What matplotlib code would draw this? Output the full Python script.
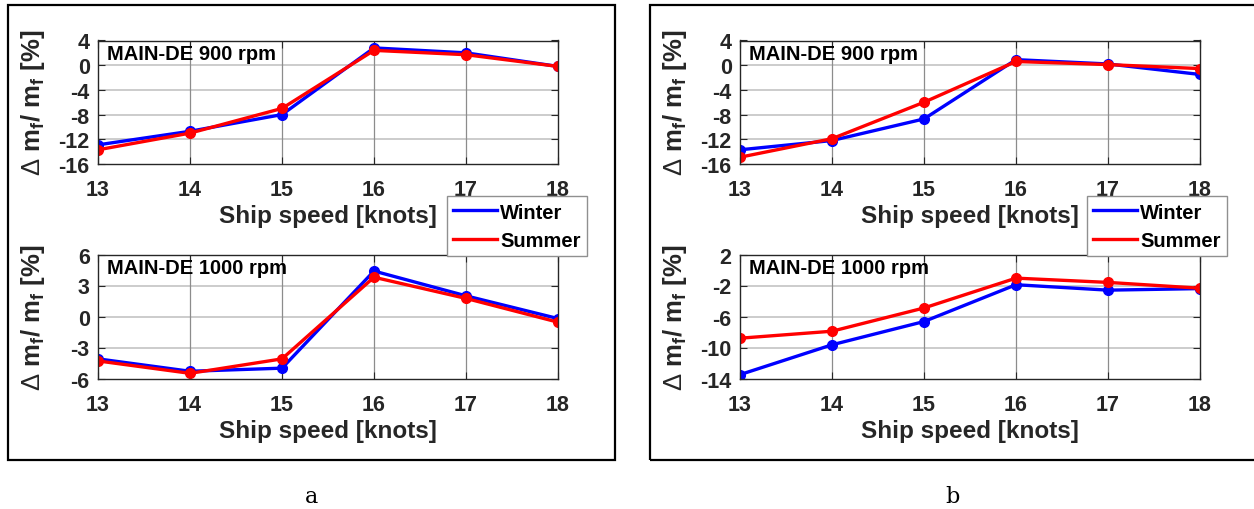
import matplotlib
matplotlib.use("Agg")
import matplotlib.pyplot as plt
from matplotlib.patches import Rectangle

plt.rcParams['font.family'] = ['Liberation Sans', 'DejaVu Sans']
plt.rcParams['mathtext.fontset'] = 'custom'
plt.rcParams['mathtext.rm'] = 'Liberation Sans'
plt.rcParams['mathtext.bf'] = 'Liberation Sans:bold'
plt.rcParams['axes.unicode_minus'] = False

speed = [13, 14, 15, 16, 17, 18]

# panel a
a900_winter = [-12.9, -10.7, -8.0, 2.8, 2.0, -0.2]
a900_summer = [-13.7, -11.0, -7.0, 2.4, 1.7, -0.2]
a1000_winter = [-4.1, -5.3, -5.0, 4.4, 2.0, -0.2]
a1000_summer = [-4.3, -5.5, -4.1, 3.8, 1.75, -0.55]

# panel b
b900_winter = [-13.7, -12.2, -8.7, 0.9, 0.2, -1.5]
b900_summer = [-14.9, -11.9, -6.0, 0.6, 0.1, -0.55]
b1000_winter = [-13.5, -9.65, -6.65, -1.9, -2.6, -2.4]
b1000_summer = [-8.8, -7.9, -4.9, -1.05, -1.6, -2.35]

yticks_900 = [-16, -12, -8, -4, 0, 4]
yticks_a1000 = [-6, -3, 0, 3, 6]
yticks_b1000 = [-14, -10, -6, -2, 2]

W, H = 1254, 510
fig = plt.figure(figsize=(W / 100, H / 100), dpi=100)


def px_axes(x0, y0, x1, y1):
    return fig.add_axes([x0 / W, 1 - y1 / H, (x1 - x0) / W, (y1 - y0) / H])


def px_box(x0, y0, x1, y1):
    fig.patches.append(Rectangle((x0 / W, 1 - y1 / H), (x1 - x0) / W, (y1 - y0) / H,
                                 transform=fig.transFigure, fill=False,
                                 edgecolor='black', lw=1.6))


dark = '#262626'


def draw(ax, winter, summer, yticks, title, x0, y0, y1):
    ax.set_xlim(13, 18)
    ax.set_ylim(yticks[0], yticks[-1])
    ax.set_xticks(speed)
    ax.set_yticks(yticks)
    for y in yticks[1:-1]:
        ax.axhline(y, color='#c8c8c8', lw=1.3, zorder=0)
    for x in speed[1:-1]:
        ax.axvline(x, color='#8c8c8c', lw=0.9, zorder=0)
    ax.plot(speed, winter, '-o', color='#0000ff', lw=2.4, ms=7, label='Winter')
    ax.plot(speed, summer, '-o', color='#ff0000', lw=2.4, ms=7, label='Summer')
    ax.tick_params(direction='in', length=5, top=True, right=True, color=dark,
                   labelcolor=dark, labelsize=15.5)
    ax.tick_params(axis='x', pad=11)
    ax.tick_params(axis='y', pad=6)
    for lab in ax.get_xticklabels() + ax.get_yticklabels():
        lab.set_fontweight('bold')
    for s in ax.spines.values():
        s.set_color(dark)
        s.set_linewidth(1.0)
    ax.set_xlabel('Ship speed [knots]', fontsize=17.5, fontweight='bold', color=dark, labelpad=3)
    ax.text(0.02, 0.975, title, transform=ax.transAxes, ha='left', va='top',
            fontsize=14.5, fontweight='bold', color='black')
    fig.text((x0 - 65) / W, 1 - (y0 + y1) / 2 / H,
             r'$\Delta$ m$_{\mathbf{f}}$/ m$_{\mathbf{f}}$ [%]',
             rotation=90, ha='center', va='center', fontsize=18.5,
             fontweight='bold', color=dark)


px_box(8, 6, 615, 461)
px_box(650, 6, 1264, 461)

ax1 = px_axes(98, 41.5, 558, 165)
draw(ax1, a900_winter, a900_summer, yticks_900, 'MAIN-DE 900 rpm', 98, 41.5, 165)
ax2 = px_axes(98, 255.5, 558, 379.5)
draw(ax2, a1000_winter, a1000_summer, yticks_a1000, 'MAIN-DE 1000 rpm', 98, 255.5, 379.5)
ax3 = px_axes(740, 41.5, 1200, 165)
draw(ax3, b900_winter, b900_summer, yticks_900, 'MAIN-DE 900 rpm', 740, 41.5, 165)
ax4 = px_axes(740, 255.5, 1200, 379.5)
draw(ax4, b1000_winter, b1000_summer, yticks_b1000, 'MAIN-DE 1000 rpm', 740, 255.5, 379.5)

handles = [plt.Line2D([], [], color='#0000ff', lw=2.4),
           plt.Line2D([], [], color='#ff0000', lw=2.4)]
for lx in (447, 1087):
    leg = fig.legend(handles, ['Winter', 'Summer'], loc='upper left',
                     bbox_to_anchor=(lx / W, 1 - 197.5 / H), borderaxespad=0,
                     fancybox=False, framealpha=1, edgecolor='#909090',
                     prop={'weight': 'bold', 'size': 14.5}, handlelength=2.2,
                     handletextpad=0.15, labelspacing=0.45, borderpad=0.3)
    leg.get_frame().set_linewidth(1.0)

fig.text(312 / W, 1 - 497 / H, 'a', ha='center', va='center', fontsize=16,
         family='DejaVu Serif')
fig.text(953 / W, 1 - 497 / H, 'b', ha='center', va='center', fontsize=16,
         family='DejaVu Serif')

fig.savefig('out.png', dpi=100)
